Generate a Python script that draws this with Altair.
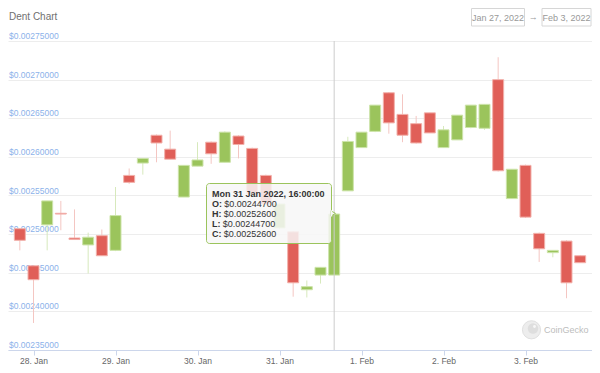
import altair as alt
import pandas as pd
import numpy as np
from datetime import datetime

# ---------------- data ----------------
times = [
    "2022-01-27T20:00:00",
    "2022-01-28T00:00:00", "2022-01-28T04:00:00", "2022-01-28T08:00:00",
    "2022-01-28T12:00:00", "2022-01-28T16:00:00", "2022-01-28T20:00:00",
    "2022-01-29T00:00:00", "2022-01-29T04:00:00", "2022-01-29T08:00:00",
    "2022-01-29T12:00:00", "2022-01-29T16:00:00", "2022-01-29T20:00:00",
    "2022-01-30T00:00:00", "2022-01-30T04:00:00", "2022-01-30T08:00:00",
    "2022-01-30T12:00:00", "2022-01-30T16:00:00", "2022-01-30T20:00:00",
    "2022-01-31T00:00:00", "2022-01-31T04:00:00", "2022-01-31T08:00:00",
    "2022-01-31T12:00:00", "2022-01-31T16:00:00", "2022-01-31T20:00:00",
    "2022-02-01T00:00:00", "2022-02-01T04:00:00", "2022-02-01T08:00:00",
    "2022-02-01T12:00:00", "2022-02-01T16:00:00", "2022-02-01T20:00:00",
    "2022-02-02T00:00:00", "2022-02-02T04:00:00", "2022-02-02T08:00:00",
    "2022-02-02T12:00:00", "2022-02-02T16:00:00", "2022-02-02T20:00:00",
    "2022-02-03T00:00:00", "2022-02-03T04:00:00", "2022-02-03T08:00:00",
    "2022-02-03T12:00:00", "2022-02-03T16:00:00",
]
opens = [
    0.002507, 0.002459, 0.002512, 0.002527, 0.002495, 0.002486, 0.002498,
    0.002479, 0.002576, 0.002592, 0.002628, 0.002610, 0.002548,
    0.002588, 0.002619, 0.002593, 0.002627, 0.002611, 0.002576,
    0.002508, 0.002503, 0.002428, 0.002447, 0.002447, 0.002556,
    0.002612, 0.002633, 0.002683, 0.002655, 0.002643, 0.002657,
    0.002612, 0.002622, 0.002638, 0.002637, 0.002700, 0.002546,
    0.002589, 0.002501, 0.002476, 0.002491, 0.002472,
]
highs = [
    0.002508, 0.002460, 0.002543, 0.002543, 0.002532, 0.002502, 0.002506,
    0.002561, 0.002585, 0.002598, 0.002629, 0.002634, 0.002589,
    0.002619, 0.002620, 0.002633, 0.002628, 0.002612, 0.002577,
    0.002540, 0.002504, 0.002440, 0.002457, 0.002526, 0.002626,
    0.002632, 0.002667, 0.002684, 0.002681, 0.002653, 0.002657,
    0.002640, 0.002654, 0.002667, 0.002668, 0.002729, 0.002584,
    0.002590, 0.002502, 0.002479, 0.002492, 0.002473,
]
lows = [
    0.002479, 0.002385, 0.002479, 0.002505, 0.002493, 0.002449, 0.002472,
    0.002478, 0.002565, 0.002577, 0.002593, 0.002597, 0.002548,
    0.002588, 0.002591, 0.002593, 0.002598, 0.002550, 0.002538,
    0.002507, 0.002419, 0.002418, 0.002436, 0.002447, 0.002556,
    0.002612, 0.002632, 0.002630, 0.002619, 0.002617, 0.002631,
    0.002612, 0.002622, 0.002637, 0.002635, 0.002581, 0.002546,
    0.002521, 0.002464, 0.002470, 0.002417, 0.002463,
]
closes = [
    0.002492, 0.002441, 0.002543, 0.002526, 0.002493, 0.002496, 0.002472,
    0.002524, 0.002567, 0.002598, 0.002618, 0.002597, 0.002589,
    0.002596, 0.002604, 0.002632, 0.002616, 0.002552, 0.002539,
    0.002539, 0.002437, 0.002432, 0.002457, 0.002526, 0.002620,
    0.002632, 0.002667, 0.002644, 0.002628, 0.002618, 0.002631,
    0.002635, 0.002654, 0.002667, 0.002668, 0.002582, 0.002584,
    0.002522, 0.002481, 0.002479, 0.002437, 0.002463,
]
y_ticks = [0.00235, 0.00240, 0.00245, 0.00250, 0.00255,
           0.00260, 0.00265, 0.00270, 0.00275]
x_tick_days = [(1, 28), (1, 29), (1, 30), (1, 31), (2, 1), (2, 2), (2, 3)]
hover_index = 23
title_text = "Dent Chart"
range_from = "Jan 27, 2022"
range_to = "Feb 3, 2022"

# ---------------- build ----------------
df = pd.DataFrame({"t": times, "o": opens, "h": highs, "l": lows, "c": closes})
df["dir"] = np.where(df["c"] >= df["o"], "up", "down")

W, H = 584, 309
FONT = "Liberation Sans"
GREEN, RED = "#9bc45c", "#e05f58"
GREEN_EDGE, RED_EDGE = "#cde4aa", "#f2b1ab"
GREEN_WICK, RED_WICK = "#d7e9bc", "#f4c6c2"

xscale = alt.Scale(domain=[alt.DateTime(year=2022, month=1, date=27, hours=18),
                           alt.DateTime(year=2022, month=2, date=3, hours=18)])
yscale = alt.Scale(domain=[0.00235, 0.00275], nice=False, zero=False)

xaxis = alt.Axis(
    values=[alt.DateTime(year=2022, month=m, date=d) for m, d in x_tick_days],
    format="%-d. %b", title=None, grid=False,
    domainColor="#ccd6eb", tickColor="#ccd6eb", tickSize=5,
    labelColor="#666666", labelFontSize=8.5, labelFont=FONT, labelPadding=1,
    labelFlush=False,
)
yaxis = alt.Axis(values=y_ticks, grid=True, gridColor="#ededed", gridWidth=1,
                 labels=False, ticks=False, domain=False, title=None)

X = alt.X("t:T", scale=xscale, axis=xaxis)

# y labels (inside plot, above grid line)
ylab_df = pd.DataFrame({"v": y_ticks, "lab": [f"${v:.8f}" for v in y_ticks]})
ylabels = alt.Chart(ylab_df).mark_text(
    align="left", baseline="alphabetic", dy=-2, fontSize=8.5, font=FONT,
    color="#8cb2ea",
).encode(x=alt.value(1), y=alt.Y("v:Q", scale=yscale, axis=yaxis), text="lab:N")

wicks = alt.Chart(df).mark_rule(strokeWidth=1).encode(
    x=X,
    y=alt.Y("l:Q", scale=yscale, axis=yaxis),
    y2="h:Q",
    color=alt.Color("dir:N", scale=alt.Scale(domain=["up", "down"],
                                             range=[GREEN_WICK, RED_WICK]), legend=None),
)

bodies = alt.Chart(df).mark_bar(size=11, strokeWidth=1).encode(
    x=X,
    y=alt.Y("o:Q", scale=yscale, axis=yaxis),
    y2="c:Q",
    fill=alt.Fill("dir:N", scale=alt.Scale(domain=["up", "down"], range=[GREEN, RED]),
                  legend=None),
    stroke=alt.Stroke("dir:N", scale=alt.Scale(domain=["up", "down"],
                                               range=[GREEN_EDGE, RED_EDGE]), legend=None),
)

hover = df.iloc[[hover_index]].reset_index(drop=True)
crosshair = alt.Chart(hover).mark_rule(color="#cccccc", strokeWidth=1).encode(
    x=X, y=alt.value(0), y2=alt.value(H)
)

one = pd.DataFrame({"a": [0]})
layers = [ylabels, wicks, bodies, crosshair]

# tooltip
layers.append(alt.Chart(one).mark_rect(
    fill="#f7f7f7", fillOpacity=0.85, stroke=GREEN, strokeWidth=1, cornerRadius=3
).encode(x=alt.value(198.5), x2=alt.value(323.5), y=alt.value(142.5), y2=alt.value(202.5)))
layers.append(alt.Chart(one).mark_point(
    shape="triangle-right", filled=True, size=28, fill="#f7f7f7", opacity=1,
    stroke=GREEN, strokeWidth=1
).encode(x=alt.value(325.2), y=alt.value(172.4)))
layers.append(alt.Chart(one).mark_rect(fill="#f7f7f7").encode(
    x=alt.value(322.5), x2=alt.value(324.2), y=alt.value(169.3), y2=alt.value(175.5)))

hdr = datetime.fromisoformat(times[hover_index]).strftime("%a %d %b %Y, %H:%M:%S")
layers.append(alt.Chart(one).mark_text(
    align="left", baseline="middle", fontSize=9, fontWeight="bold", font=FONT, color="#333333"
).encode(x=alt.value(204), y=alt.value(153.2), text=alt.value(hdr)))
vals = [("O:", opens[hover_index], 12.2), ("H:", highs[hover_index], 11.7),
        ("L:", lows[hover_index], 10.8), ("C:", closes[hover_index], 11.7)]
for i, (lab, v, w) in enumerate(vals):
    yy = 163.2 + i * 9.8
    layers.append(alt.Chart(one).mark_text(
        align="left", baseline="middle", fontSize=9, fontWeight="bold", font=FONT, color="#333333"
    ).encode(x=alt.value(204), y=alt.value(yy), text=alt.value(lab)))
    layers.append(alt.Chart(one).mark_text(
        align="left", baseline="middle", fontSize=9, font=FONT, color="#333333"
    ).encode(x=alt.value(204 + w), y=alt.value(yy), text=alt.value(f"${v:.8f}")))

# title
layers.append(alt.Chart(one).mark_text(
    align="left", baseline="middle", fontSize=10, font=FONT, color="#707070"
).encode(x=alt.value(1), y=alt.value(-24.5), text=alt.value(title_text)))

# date range boxes
for (x0, x1, txt) in [(463.5, 516.5, range_from), (534.0, 583.0, range_to)]:
    layers.append(alt.Chart(one).mark_rect(
        fill="white", stroke="#d6d6d6", strokeWidth=1
    ).encode(x=alt.value(x0), x2=alt.value(x1), y=alt.value(-32.5), y2=alt.value(-15)))
    layers.append(alt.Chart(one).mark_text(
        align="center", baseline="middle", fontSize=9, font=FONT, color="#999999"
    ).encode(x=alt.value((x0 + x1) / 2), y=alt.value(-23.5), text=alt.value(txt)))
layers.append(alt.Chart(one).mark_text(
    align="center", baseline="middle", fontSize=9, font=FONT, color="#999999"
).encode(x=alt.value(525.3), y=alt.value(-24), text=alt.value("→")))

# CoinGecko watermark
layers.append(alt.Chart(one).mark_point(
    shape="circle", filled=True, size=330, fill="#ededed", stroke="#e0e0e0",
    strokeWidth=1, opacity=1
).encode(x=alt.value(523.5), y=alt.value(288.8)))
layers.append(alt.Chart(one).mark_point(
    shape="circle", filled=True, size=110, fill="#dedede", opacity=1
).encode(x=alt.value(525), y=alt.value(287.5)))
layers.append(alt.Chart(one).mark_point(
    shape="circle", filled=True, size=8, fill="#f7f7f7", opacity=1
).encode(x=alt.value(526.5), y=alt.value(285.5)))
layers.append(alt.Chart(one).mark_text(
    align="left", baseline="middle", fontSize=9, font=FONT, color="#bdbdbd"
).encode(x=alt.value(536), y=alt.value(289), text=alt.value("CoinGecko")))

chart = alt.layer(*layers).properties(
    width=W, height=H,
    autosize=alt.AutoSizeParams(type="none"),
    padding={"left": 0, "top": 33, "right": 0, "bottom": 15},
    background="white",
).configure_view(stroke=None)

chart.save("out.html", embed_options={"renderer": "svg", "actions": False})
